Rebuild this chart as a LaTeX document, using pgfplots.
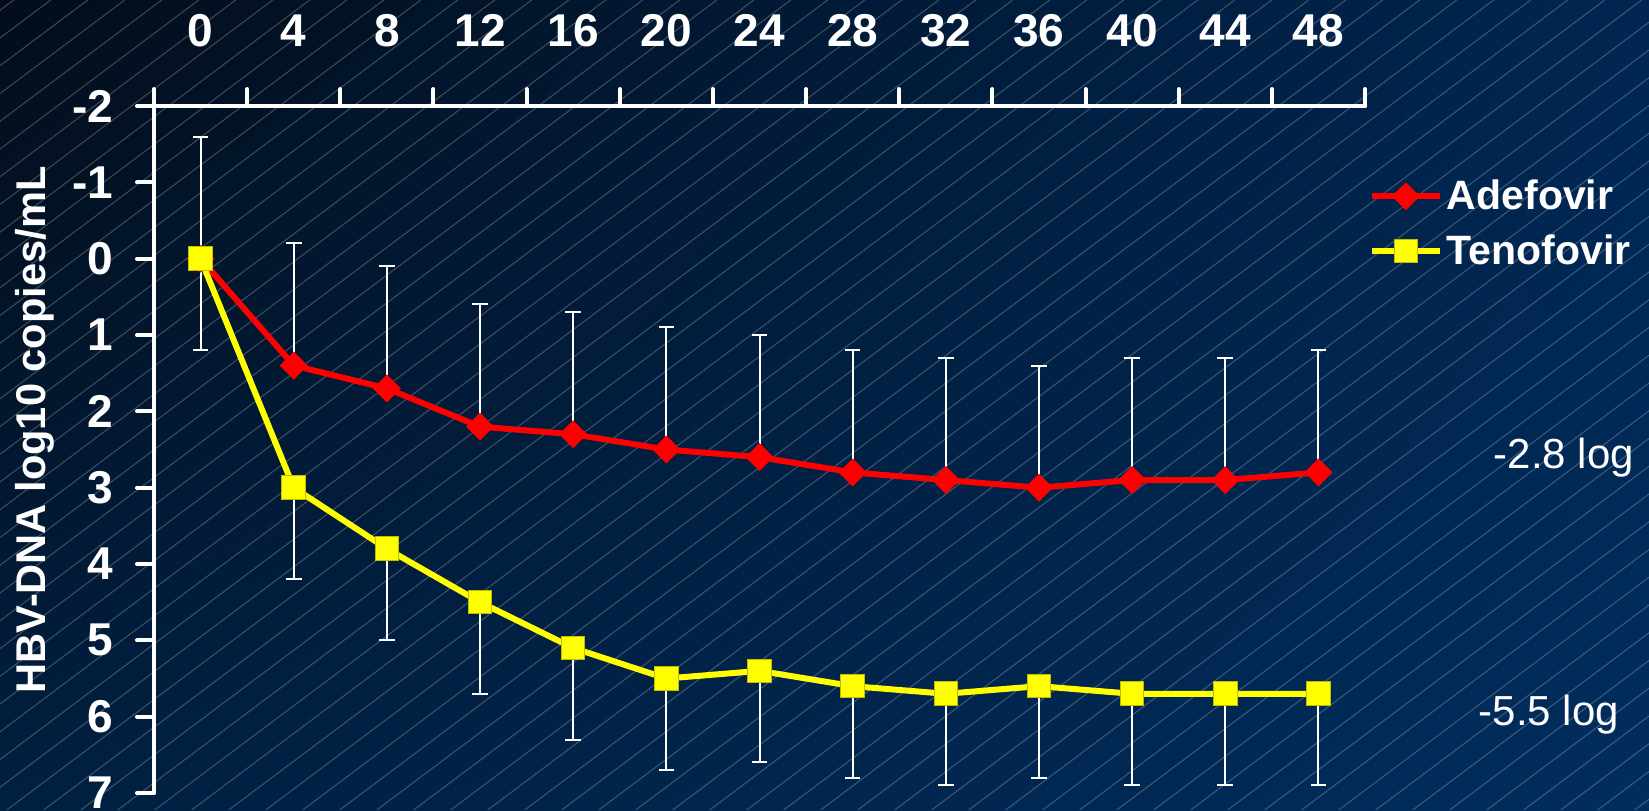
\documentclass[border=0pt]{standalone}
\usepackage{pgfplots}
\usepackage{pgfplotstable}
\pgfplotsset{compat=1.18}
\usetikzlibrary{shadings}
\usepackage{fontspec}
\setmainfont{Liberation Sans}

\definecolor{bgUL}{RGB}{3,13,26}
\definecolor{bgUR}{RGB}{0,38,81}
\definecolor{bgLL}{RGB}{1,31,64}
\definecolor{bgLR}{RGB}{1,45,93}
\definecolor{adeRed}{RGB}{255,0,0}
\definecolor{tenYellow}{RGB}{255,255,0}

% week, mean change (log10 copies/mL) and one-sided SD for each arm
\pgfplotstableread{
week ade adesd ten tensd
0    0.0 1.6   0.0 1.2
4    1.4 1.6   3.0 1.2
8    1.7 1.6   3.8 1.2
12   2.2 1.6   4.5 1.2
16   2.3 1.6   5.1 1.2
20   2.5 1.6   5.5 1.2
24   2.6 1.6   5.4 1.2
28   2.8 1.6   5.6 1.2
32   2.9 1.6   5.7 1.2
36   3.0 1.6   5.6 1.2
40   2.9 1.6   5.7 1.2
44   2.9 1.6   5.7 1.2
48   2.8 1.6   5.7 1.2
}\hbvdata

\begin{document}
\begin{tikzpicture}[x=1pt,y=1pt]
\useasboundingbox (0,0) rectangle (824.5,405);
\clip (0,0) rectangle (824.5,405);
% slide background with fine diagonal hatching
\shade[upper left=bgUL, upper right=bgUR, lower left=bgLL, lower right=bgLR]
  (0,0) rectangle (824.5,405);
\foreach \k in {-31,...,46}
  \draw[white, opacity=0.24, line width=0.5pt] ({3.35+18.5*\k},0) -- ++(540,405);

\begin{axis}[
  at={(77pt,8.5pt)}, anchor=south west,
  scale only axis, width=605.5pt, height=343.5pt,
  xmin=-2, xmax=50, ymin=-2, ymax=7,
  y dir=reverse,
  axis x line*=top, axis y line*=left,
  axis line style={white, line width=2pt, line cap=round},
  tick align=outside,
  major tick length=8.5pt, minor tick length=8.5pt,
  xtick={0,4,...,48},
  xticklabels={0,4,8,12,16,20,24,28,32,36,40,44,48},
  minor xtick={-2,2,...,50},
  major x tick style={draw=none},
  minor x tick style={white, line width=2pt, line cap=round},
  ytick={-2,-1,...,7},
  yticklabels={-2,-1,0,1,2,3,4,5,6,7},
  major y tick style={white, line width=2pt, line cap=round},
  xticklabel style={font=\bfseries\fontsize{23}{26}\selectfont, text=white, inner sep=0pt, yshift=21pt},
  yticklabel style={font=\bfseries\fontsize{23}{26}\selectfont, text=white, inner sep=0pt, xshift=-11.75pt},
  legend style={at={(axis cs:50.15,-0.46)}, anchor=west, draw=none, fill=none,
    text=white, font=\bfseries\fontsize{20.5}{24}\selectfont, row sep=7pt,
    inner sep=0pt, column sep=0pt},
  legend cell align=left,
  legend image code/.code={\draw[mark repeat=2, mark phase=2, #1]
    plot coordinates {(0pt,0pt) (17pt,0pt) (34pt,0pt)};},
]
\addplot[adeRed, line width=3pt, mark=square*, mark size=4.7pt,
  mark options={rotate=45, solid, fill=adeRed, draw=adeRed, line width=0.5pt},
  error bars/.cd, y dir=minus, y explicit,
  error bar style={white, line width=1pt},
  error mark options={rotate=90, white, mark size=3.9pt, line width=1pt}]
  table[x=week, y=ade, y error=adesd] {\hbvdata};
\addlegendentry{Adefovir}
\addplot[tenYellow, line width=3pt, mark=square*, mark size=5.9pt,
  mark options={solid, fill=tenYellow, draw=tenYellow!75!black, line width=0.5pt},
  error bars/.cd, y dir=plus, y explicit,
  error bar style={white, line width=1pt},
  error mark options={rotate=90, white, mark size=3.9pt, line width=1pt}]
  table[x=week, y=ten, y error=tensd] {\hbvdata};
\addlegendentry{Tenofovir}
\end{axis}

\node[rotate=90, text=white, font=\bfseries\fontsize{20.8}{24}\selectfont] at (17.5,190) {HBV-DNA log10 copies/mL};
\node[anchor=base, text=white, font=\fontsize{21}{24}\selectfont] at (782,171) {-2.8 log};
\node[anchor=base, text=white, font=\fontsize{21}{24}\selectfont] at (774.5,42.5) {-5.5 log};
\end{tikzpicture}
\end{document}
